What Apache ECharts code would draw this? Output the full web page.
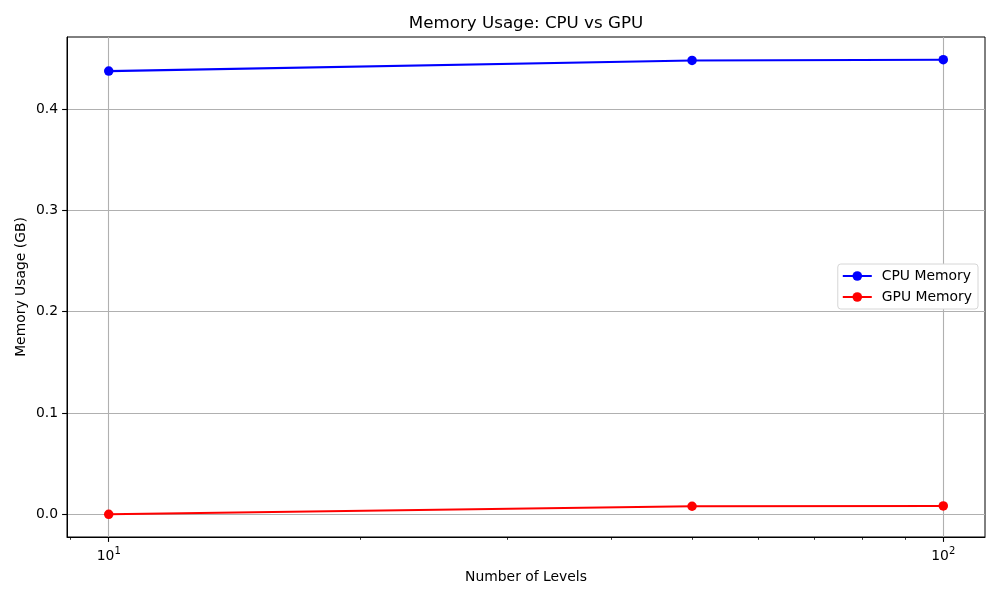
<!DOCTYPE html>
<html><head><meta charset="utf-8">
<script src="https://cdn.jsdelivr.net/npm/echarts@6/dist/echarts.min.js"></script>
<style>html,body{margin:0;padding:0;background:#fff}#c{width:1000px;height:600px}</style>
</head><body><div id="c"></div>
<script>
const levels = [10, 50, 100];
const cpuMemory = [0.4375, 0.4480, 0.4487];
const gpuMemory = [0.0, 0.0079, 0.0082];
const xMajorTicks = [10, 100];
const xMajorExps = ['1', '2'];
const xMinorTicks = [9, 20, 30, 40, 50, 60, 70, 80, 90];
const yTicks = [0.0, 0.1, 0.2, 0.3, 0.4];
const yTickLabels = ['0.0', '0.1', '0.2', '0.3', '0.4'];

const FONT = 'DejaVu Sans';
const xMin = 8.9125, xMax = 112.2;
const yMin = -0.02244, yMax = 0.47114;

const chart = echarts.init(document.getElementById('c'), null, {renderer: 'canvas'});
chart.setOption({
  animation: false,
  backgroundColor: '#fff',
  title: {
    text: 'Memory Usage: CPU vs GPU',
    left: 526, top: 15.5, textAlign: 'center', padding: 0,
    textStyle: {fontFamily: FONT, fontSize: 16.7, fontWeight: 'normal', color: '#000'}
  },
  grid: {left: 67, right: 15, top: 37, bottom: 63, show: true, borderColor: '#000', borderWidth: 1, backgroundColor: 'transparent'},
  legend: {
    orient: 'vertical', right: 22, top: 264,
    backgroundColor: '#fff', borderColor: '#d6d6d6', borderWidth: 1, borderRadius: 3,
    padding: [5, 6, 5, 4], itemGap: 7, itemWidth: 29, itemHeight: 12,
    textStyle: {fontFamily: FONT, fontSize: 13.9, color: '#000', padding: [0, 0, 0, 5]},
    data: ['CPU Memory', 'GPU Memory']
  },
  xAxis: [{
    type: 'log', min: xMin, max: xMax, logBase: 10,
    name: 'Number of Levels', nameLocation: 'middle', nameGap: 33, nameMoveOverlap: false,
    nameTextStyle: {fontFamily: FONT, fontSize: 13.9, color: '#000', verticalAlign: 'top'},
    axisLine: {show: true, onZero: false, lineStyle: {color: '#000', width: 1}},
    axisTick: {show: true, inside: false, length: 4.9, customValues: xMajorTicks, lineStyle: {color: '#000', width: 1.1}},
    axisLabel: {
      show: true, margin: 9, customValues: xMajorTicks,
      formatter: function (v) {
        const i = xMajorTicks.findIndex(t => Math.abs(t - v) / t < 1e-6);
        return i < 0 ? '' : '{b|10}{s|' + xMajorExps[i] + '}';
      },
      rich: {
        b: {fontFamily: FONT, fontSize: 13.9, color: '#000', verticalAlign: 'bottom', lineHeight: 17},
        s: {fontFamily: FONT, fontSize: 10, color: '#000', verticalAlign: 'top', lineHeight: 8}
      }
    },
    splitLine: {show: true, lineStyle: {color: '#b0b0b0', width: 1.1}}
  }, {
    type: 'log', min: xMin, max: xMax, logBase: 10, position: 'bottom', gridIndex: 0,
    axisLine: {show: false, onZero: false},
    axisTick: {show: true, inside: false, length: 2.8, customValues: xMinorTicks, lineStyle: {color: '#000', width: 0.8}},
    axisLabel: {show: false, customValues: xMinorTicks},
    splitLine: {show: false}
  }],
  yAxis: {
    type: 'value', min: yMin, max: yMax,
    name: 'Memory Usage (GB)', nameLocation: 'middle', nameGap: 39, nameRotate: 90, nameMoveOverlap: false,
    nameTextStyle: {fontFamily: FONT, fontSize: 13.9, color: '#000'},
    axisLine: {show: true, onZero: false, lineStyle: {color: '#000', width: 1}},
    axisTick: {show: true, inside: false, length: 4.9, customValues: yTicks, lineStyle: {color: '#000', width: 1.1}},
    axisLabel: {
      show: true, margin: 9, customValues: yTicks,
      fontFamily: FONT, fontSize: 13.9, color: '#000',
      formatter: function (v) {
        const i = yTicks.findIndex(t => Math.abs(t - v) < 1e-9);
        return i < 0 ? '' : yTickLabels[i];
      }
    },
    splitLine: {show: true, lineStyle: {color: '#b0b0b0', width: 1.1}}
  },
  series: [{
    name: 'CPU Memory', type: 'line', xAxisIndex: 0,
    data: levels.map((x, i) => [x, cpuMemory[i]]),
    symbol: 'circle', symbolSize: 9.5, showSymbol: true,
    itemStyle: {color: '#0000ff'}, lineStyle: {color: '#0000ff', width: 2.1}
  }, {
    name: 'GPU Memory', type: 'line', xAxisIndex: 0,
    data: levels.map((x, i) => [x, gpuMemory[i]]),
    symbol: 'circle', symbolSize: 9.5, showSymbol: true,
    itemStyle: {color: '#ff0000'}, lineStyle: {color: '#ff0000', width: 2.1}
  }]
});
</script></body></html>
